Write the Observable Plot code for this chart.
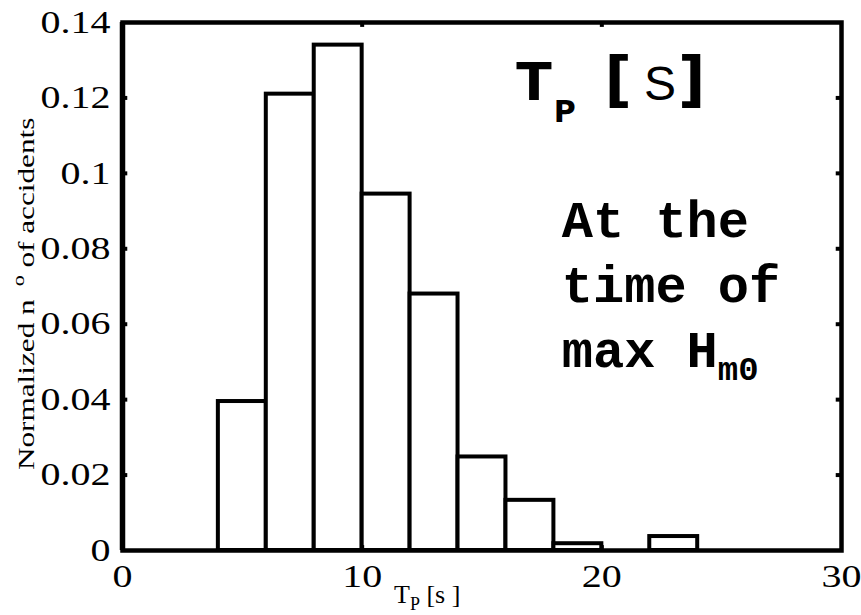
<!DOCTYPE html>
<html>
<head>
<meta charset="utf-8">
<script src="https://cdn.jsdelivr.net/npm/d3@7"></script>
<script src="https://cdn.jsdelivr.net/npm/@observablehq/plot@0.6"></script>
<style>
  html, body { margin: 0; padding: 0; background: #fff; }
  #chart svg { display: block; }
</style>
</head>
<body>
<div id="chart"></div>
<script>
// Histogram of peak wave period T_P at the time of max Hm0 (bins of 2 s)
const binStart = [4, 6, 8, 10, 12, 14, 16, 18, 20, 22];
const binEnd   = [6, 8, 10, 12, 14, 16, 18, 20, 22, 24];
const share    = [0.0395, 0.121, 0.134, 0.0945, 0.068, 0.0248, 0.0133, 0.0018, 0, 0.0037];

const xTicks = [0, 10, 20, 30];
const xTickLabels = ["0", "10", "20", "30"];
const yTicks = [0, 0.02, 0.04, 0.06, 0.08, 0.1, 0.12, 0.14];
const yTickLabels = ["0", "0.02", "0.04", "0.06", "0.08", "0.1", "0.12", "0.14"];
const innerYTicks = [0.02, 0.04, 0.06, 0.08, 0.1, 0.12];
const innerXTicks = [10, 20];

const bins = binStart.map((x1, i) => ({x1, x2: binEnd[i], y: share[i]}));

const serif = "'Liberation Serif', 'Times New Roman', serif";

const chart = Plot.plot({
  width: 861,
  height: 615,
  marginLeft: 122,
  marginRight: 20,
  marginTop: 22,
  marginBottom: 65,
  style: {fontFamily: serif, background: "white", color: "black", overflow: "visible"},
  x: {domain: [0, 30], label: null},
  y: {domain: [0, 0.14], label: null},
  marks: [
    Plot.rectY(bins, {x1: "x1", x2: "x2", y: "y", fill: "white", stroke: "black", strokeWidth: 4}),
    // inward tick marks on all four sides
    Plot.ruleY(innerYTicks, {x1: 0, x2: 0.22, stroke: "black", strokeWidth: 4}),
    Plot.ruleY(innerYTicks, {x1: 29.78, x2: 30, stroke: "black", strokeWidth: 4}),
    Plot.ruleX(innerXTicks, {y1: 0.14, y2: 0.1387, stroke: "black", strokeWidth: 4}),
    Plot.ruleX(innerXTicks, {y1: 0, y2: 0.0013, stroke: "black", strokeWidth: 4}),
    Plot.frame({stroke: "black", strokeWidth: 4.5}),
    // slightly heavier left axis line
    Plot.ruleX([0], {stroke: "black", strokeWidth: 5.5}),
    Plot.axisY(yTicks, {
      tickSize: 0, tickPadding: 12, fontSize: 32, fill: "black", label: null,
      tickFormat: d => yTickLabels[yTicks.indexOf(d)]
    }),
    Plot.axisX(xTicks, {
      tickSize: 0, tickPadding: 14, fontSize: 32, fill: "black", label: null,
      tickFormat: d => xTickLabels[xTicks.indexOf(d)]
    })
  ]
});

document.getElementById("chart").appendChild(chart);

const svg = d3.select(chart);
const sx = chart.scale("x");
const sy = chart.scale("y");

// widen the serif tick labels
svg.selectAll("g[aria-label='y-axis tick label'] text, g[aria-label='x-axis tick label'] text")
  .attr("transform", function () { return (this.getAttribute("transform") || "") + " scale(1.25,1)"; });

// y-axis title
const yTitle = svg.append("text")
  .attr("transform", "translate(34,470) rotate(-90) scale(1.3,1)")
  .attr("text-anchor", "start")
  .attr("font-family", serif)
  .attr("font-size", 24)
  .attr("fill", "black")
  .attr("xml:space", "preserve");
yTitle.append("tspan").text("Normalized n");
yTitle.append("tspan").attr("dx", 10).attr("dy", -10).attr("font-size", 17).text("o");
yTitle.append("tspan").attr("dx", 6).attr("dy", 10).text("of accidents");

// x-axis title
const xTitle = svg.append("text")
  .attr("x", 394).attr("y", 603)
  .attr("text-anchor", "start")
  .attr("font-family", serif)
  .attr("font-size", 26)
  .attr("fill", "black")
  .attr("xml:space", "preserve");
xTitle.append("tspan").text("T");
xTitle.append("tspan").attr("dy", 7).attr("font-size", 18).text("P");
xTitle.append("tspan").attr("dy", -7).text(" [s ]");

// panel title "T_P [S]"
const head = svg.append("text")
  .attr("x", sx.apply(16.45)).attr("y", sy.apply(0.1194))
  .attr("text-anchor", "start")
  .attr("font-family", "'DejaVu Sans', sans-serif")
  .attr("font-weight", "bold")
  .attr("font-size", 52)
  .attr("fill", "black");
head.append("tspan").text("T");
head.append("tspan").attr("dx", 2).attr("dy", 22).attr("font-size", 30).text("P");
head.append("tspan").attr("dx", 8).attr("dy", -22).attr("font-size", 60).text(" [");
head.append("tspan")
  .attr("dx", 12)
  .attr("font-family", "'Liberation Sans', sans-serif")
  .attr("font-weight", 300)
  .attr("font-size", 48)
  .text("S");
head.append("tspan").attr("dx", 2).attr("font-size", 60).text("]");

// note in monospace
const mono = "'Liberation Mono', 'Courier New', monospace";
const noteLines = ["At the", "time of", "max H"];
const noteY = [0.0831, 0.0658, 0.0486];
noteLines.forEach((line, i) => {
  const t = svg.append("text")
    .attr("x", sx.apply(18.35)).attr("y", sy.apply(noteY[i]))
    .attr("text-anchor", "start")
    .attr("font-family", mono)
    .attr("font-weight", "bold")
    .attr("font-size", 52)
    .attr("fill", "black")
    .attr("xml:space", "preserve");
  t.append("tspan").text(line);
  if (i === noteLines.length - 1) {
    t.append("tspan").attr("dy", 13).attr("font-size", 34).text("m0");
  }
});
</script>
</body>
</html>
